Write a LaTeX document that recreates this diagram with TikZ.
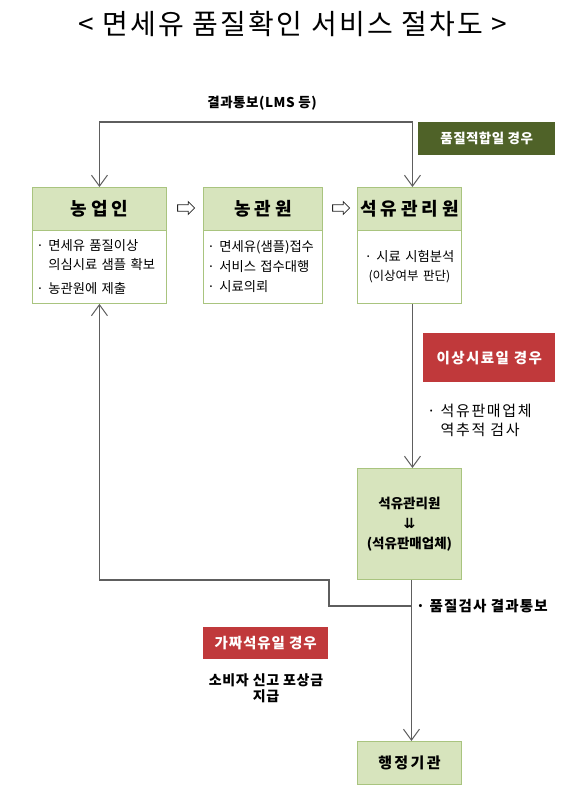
\documentclass[tikz,border=0pt]{standalone}
\usepackage{fontspec}
\setmainfont{Noto Sans CJK KR}
\newfontfamily\djv{DejaVu Sans}
\usetikzlibrary{arrows.meta,shapes.arrows}
\definecolor{hdr}{HTML}{D7E4BD}
\definecolor{bdr}{HTML}{A9C47F}
\definecolor{dgreen}{HTML}{4F6228}
\definecolor{dred}{HTML}{C0393B}
\definecolor{lncol}{HTML}{5E5E5E}
\newcommand\lsp[1]{\addfontfeature{LetterSpace=#1}}
\tikzset{
  hbox/.style={draw=bdr, fill=hdr, line width=0.9pt, minimum width=#1, minimum height=43pt,
    inner sep=0pt, anchor=north west, font=\fontsize{18}{20}\selectfont\bfseries\lsp{22}},
  bbox/.style={draw=bdr, fill=white, line width=0.9pt, text width=#1, inner xsep=4pt, inner ysep=0pt,
    minimum height=73pt, anchor=north west, font=\fontsize{13.3}{19}\selectfont},
  gbox/.style={draw=bdr, fill=hdr, line width=0.9pt, minimum width=104pt, inner sep=0pt,
    anchor=north west, align=center, font=\fontsize{13.5}{18}\selectfont\bfseries},
  tagbox/.style={fill=#1, text=white, inner sep=0pt, anchor=north west},
  conn/.style={draw=lncol, line width=1.1pt, arrows={-Straight Barb[length=11pt,width=16pt,line width=1pt]}},
  warrow/.style={single arrow, draw=black!85, fill=white, line width=0.8pt, inner xsep=1pt, inner ysep=2.8pt,
    minimum height=17pt, single arrow head extend=3.2pt},
  lbl/.style={inner sep=0pt},
}
\begin{document}
\begin{tikzpicture}[x=1pt,y=-1pt]
\useasboundingbox (0,0) rectangle (580,796);
\node[font=\fontsize{28}{32}\selectfont\lsp{8}] (title) at (293,24) {< 면세유 품질확인 서비스 절차도 >};

% top row
\node[hbox=134pt] (h1) at (32,187) {농업인};
\node[bbox=126pt] (b1) at (32,230) {· 면세유 품질이상\\\phantom{· }의심시료 샘플 확보\\[5pt]· 농관원에 제출};
\node[hbox=119pt] (h2) at (203,187) {농관원};
\node[bbox=111pt] (b2) at (203,230) {· 면세유(샘플)접수\\[1pt]· 서비스 접수대행\\[1pt]· 시료의뢰};
\node[hbox=104pt] (h3) at (357,187) {석유관리원};
\node[bbox=96pt, align=center] (b3) at (357,230) {· 시료 시험분석\\{\fontsize{12.5}{14}\selectfont(이상여부 판단)}};

\node[warrow] (a1) at (184.5,208) {};
\node[warrow] (a2) at (339.5,208) {};

% feedback on top
\coordinate (tc) at (262,122);
\draw[conn, arrows={Straight Barb[length=11pt,width=16pt,line width=1pt]-Straight Barb[length=11pt,width=16pt,line width=1pt]}] (h1.north) |- (tc) -| ([xshift=3pt]h3.north);
\node[lbl, font=\fontsize{13.5}{18}\selectfont\bfseries\lsp{4}] (lt) at (262,103) {결과통보(LMS 등)};
\node[tagbox=dgreen, minimum width=137pt, minimum height=33pt, font=\fontsize{13.5}{16}\selectfont\bfseries\lsp{3}] (ok) at (418,122) {품질적합일 경우};

% abnormal path
\node[tagbox=dred, minimum width=132pt, minimum height=49pt, font=\fontsize{14.5}{16}\selectfont\bfseries\lsp{10}] (bad) at (423,333) {이상시료일 경우};
\node[anchor=north west, inner sep=0pt, align=left, font=\fontsize{15}{19}\selectfont\lsp{11}] (trace) at (427,404) {· 석유판매업체\\\phantom{· }역추적 검사};

\node[gbox, minimum height=111pt] (h4) at (357,468) {석유관리원\\[2pt]{\djv\fontsize{14}{16}\selectfont ⇊}\\[2pt](석유판매업체)};
\draw[conn] ([xshift=3pt]b3.south) -- ([xshift=3pt]h4.north);

% result
\node[gbox, minimum height=43pt, font=\fontsize{15}{18}\selectfont\bfseries\lsp{16}] (h5) at (357,741) {행정기관};
\draw[conn] ([xshift=2pt]h4.south) -- ([xshift=2pt]h5.north);
\coordinate (j1) at (411,606);
\coordinate (k1) at (329,580);
\draw[conn] (j1) -| (k1) -| (b1.south);
\node[lbl, anchor=west, font=\fontsize{14.5}{18}\selectfont\bfseries\lsp{8}] (res) at (416,606) {· 품질검사 결과통보};

% fake petroleum
\node[tagbox=dred, minimum width=125pt, minimum height=32pt, font=\fontsize{14.5}{16}\selectfont\bfseries\lsp{6}] (fake) at (203,627) {가짜석유일 경우};
\node[lbl, align=center, font=\fontsize{14}{16}\selectfont\bfseries\lsp{5}] (reward) at (266,688) {소비자 신고 포상금\\지급};
\end{tikzpicture}
\end{document}
